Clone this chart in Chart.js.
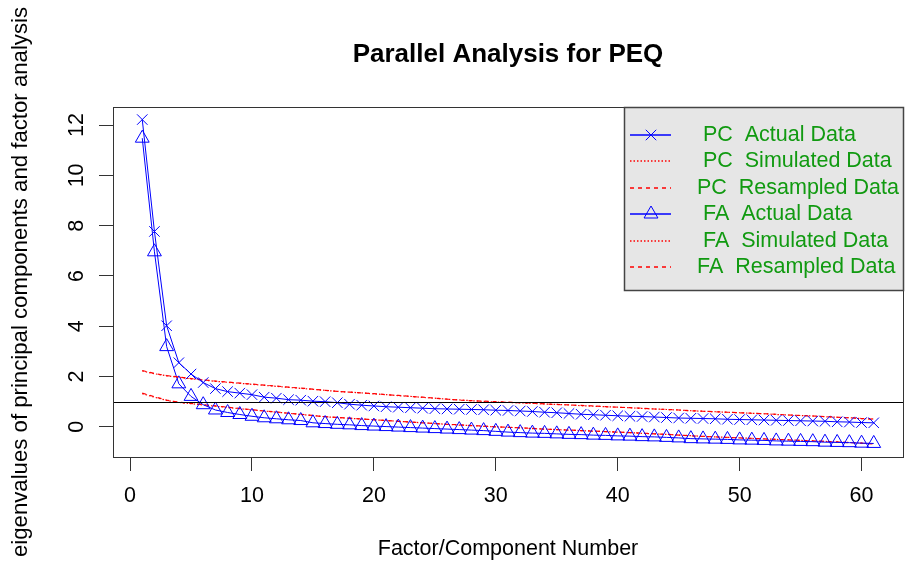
<!DOCTYPE html>
<html>
<head>
<meta charset="utf-8">
<script src="https://cdn.jsdelivr.net/npm/chart.js@4.4.0/dist/chart.umd.min.js"></script>
<style>
  html, body { margin: 0; padding: 0; background: #fff; overflow: hidden; }
  #wrap { position: absolute; left: 0; top: 0; width: 912px; height: 568px; }
</style>
</head>
<body>
<div id="wrap"><canvas id="paChart" width="912" height="568"></canvas></div>
<script>
const factorNumber = [1, 2, 3, 4, 5, 6, 7, 8, 9, 10, 11, 12, 13, 14, 15, 16, 17, 18, 19, 20,
  21, 22, 23, 24, 25, 26, 27, 28, 29, 30, 31, 32, 33, 34, 35, 36, 37, 38, 39, 40,
  41, 42, 43, 44, 45, 46, 47, 48, 49, 50, 51, 52, 53, 54, 55, 56, 57, 58, 59, 60, 61];

const pcActual = [12.22, 7.77, 4.02, 2.55, 2.10, 1.76, 1.52, 1.40, 1.34, 1.28,
  1.18, 1.14, 1.08, 1.06, 1.02, 1.00, 0.96, 0.90, 0.86, 0.83,
  0.80, 0.78, 0.76, 0.74, 0.72, 0.71, 0.70, 0.69, 0.68, 0.66,
  0.65, 0.63, 0.61, 0.58, 0.56, 0.53, 0.50, 0.48, 0.46, 0.44,
  0.42, 0.41, 0.39, 0.37, 0.35, 0.34, 0.33, 0.32, 0.30, 0.29,
  0.28, 0.27, 0.26, 0.25, 0.24, 0.23, 0.22, 0.20, 0.19, 0.17, 0.16];

const pcSimulated = [2.22, 2.11, 2.03, 1.97, 1.91, 1.86, 1.81, 1.77, 1.73, 1.69,
  1.65, 1.61, 1.57, 1.53, 1.49, 1.45, 1.41, 1.38, 1.35, 1.31,
  1.28, 1.24, 1.21, 1.17, 1.14, 1.10, 1.07, 1.04, 1.01, 0.99,
  0.97, 0.95, 0.93, 0.91, 0.89, 0.87, 0.84, 0.82, 0.80, 0.78,
  0.76, 0.73, 0.71, 0.69, 0.67, 0.64, 0.62, 0.60, 0.58, 0.56,
  0.54, 0.52, 0.49, 0.47, 0.45, 0.43, 0.40, 0.38, 0.36, 0.33, 0.31];

const pcResampled = [2.24, 2.12, 2.04, 1.98, 1.92, 1.87, 1.82, 1.78, 1.74, 1.70,
  1.66, 1.62, 1.58, 1.54, 1.50, 1.45, 1.41, 1.38, 1.35, 1.32,
  1.28, 1.25, 1.21, 1.18, 1.14, 1.10, 1.06, 1.04, 1.02, 1.00,
  0.98, 0.96, 0.94, 0.91, 0.89, 0.87, 0.85, 0.83, 0.80, 0.78,
  0.76, 0.74, 0.71, 0.69, 0.67, 0.64, 0.62, 0.60, 0.58, 0.56,
  0.54, 0.52, 0.50, 0.47, 0.45, 0.43, 0.41, 0.38, 0.36, 0.33, 0.30];

const faActual = [11.48, 6.96, 3.19, 1.71, 1.21, 0.88, 0.67, 0.57, 0.49, 0.42,
  0.36, 0.32, 0.28, 0.25, 0.16, 0.13, 0.10, 0.08, 0.05, 0.03,
  0.01, -0.01, -0.03, -0.05, -0.07, -0.09, -0.11, -0.13, -0.15, -0.18,
  -0.21, -0.23, -0.25, -0.26, -0.28, -0.30, -0.31, -0.33, -0.34, -0.36,
  -0.37, -0.39, -0.40, -0.42, -0.44, -0.47, -0.48, -0.49, -0.50, -0.52,
  -0.53, -0.54, -0.56, -0.57, -0.58, -0.59, -0.61, -0.62, -0.63, -0.65, -0.66];

const faSimulated = [1.32, 1.18, 1.05, 0.97, 0.92, 0.87, 0.82, 0.77, 0.72, 0.67,
  0.63, 0.58, 0.54, 0.49, 0.45, 0.40, 0.37, 0.34, 0.31, 0.28,
  0.25, 0.22, 0.19, 0.16, 0.13, 0.10, 0.07, 0.05, 0.02, 0.00,
  -0.02, -0.04, -0.07, -0.09, -0.11, -0.13, -0.15, -0.17, -0.19, -0.21,
  -0.23, -0.26, -0.28, -0.30, -0.33, -0.35, -0.38, -0.40, -0.42, -0.44,
  -0.46, -0.48, -0.50, -0.52, -0.54, -0.56, -0.58, -0.60, -0.62, -0.65, -0.67];

const faResampled = [1.34, 1.20, 1.06, 0.98, 0.93, 0.88, 0.83, 0.78, 0.73, 0.68,
  0.63, 0.59, 0.54, 0.50, 0.45, 0.40, 0.37, 0.34, 0.31, 0.28,
  0.25, 0.22, 0.19, 0.16, 0.13, 0.10, 0.08, 0.05, 0.03, 0.00,
  -0.02, -0.04, -0.06, -0.09, -0.11, -0.13, -0.15, -0.17, -0.19, -0.21,
  -0.23, -0.25, -0.28, -0.30, -0.33, -0.36, -0.38, -0.40, -0.42, -0.44,
  -0.46, -0.48, -0.50, -0.52, -0.54, -0.56, -0.58, -0.60, -0.63, -0.65, -0.68];

const xTicks = [0, 10, 20, 30, 40, 50, 60];
const yTicks = [0, 2, 4, 6, 8, 10, 12];
const refLine = 1;

const legendLabels = ["  PC  Actual Data", "  PC  Simulated Data", " PC  Resampled Data",
  "  FA  Actual Data", "  FA  Simulated Data", " FA  Resampled Data"];

const FONT = "'Liberation Sans', Arial, sans-serif";
const BLUE = "#0000ff";
const RED = "#ff0000";
const DOTTED = [1.5, 2];
const DASHED = [4, 4];

Chart.defaults.font.family = FONT;
Chart.defaults.font.size = 21.5;
Chart.defaults.color = "#000";

function pairs(values) {
  return factorNumber.map((x, i) => ({ x: x, y: values[i] }));
}

function markerLine(label, values, style, radius) {
  return {
    label: label,
    data: pairs(values),
    borderColor: BLUE,
    borderWidth: 1,
    pointStyle: style,
    pointRadius: radius,
    pointBorderColor: BLUE,
    pointBackgroundColor: "rgba(0,0,0,0)",
    pointBorderWidth: 1,
    tension: 0
  };
}

function redLine(label, values, dash) {
  return {
    label: label,
    data: pairs(values),
    borderColor: RED,
    borderWidth: 1.2,
    borderDash: dash,
    pointRadius: 0,
    tension: 0
  };
}

// legend rows: colour, dash, marker
const legendStyles = [
  { color: BLUE, dash: [], marker: "crossRot", radius: 7.4 },
  { color: RED, dash: DOTTED, marker: null },
  { color: RED, dash: DASHED, marker: null },
  { color: BLUE, dash: [], marker: "triangle", radius: 8 },
  { color: RED, dash: DOTTED, marker: null },
  { color: RED, dash: DASHED, marker: null }
];

const datasets = [
  markerLine(legendLabels[0], pcActual, "crossRot", 7.4),
  redLine(legendLabels[1], pcSimulated, DOTTED),
  redLine(legendLabels[2], pcResampled, DASHED),
  markerLine(legendLabels[3], faActual, "triangle", 8),
  redLine(legendLabels[4], faSimulated, DOTTED),
  redLine(legendLabels[5], faResampled, DASHED)
];

// box, reference line, title and legend in R style
const paDecor = {
  id: "paDecor",
  afterDatasetsDraw(chart) {
    const { ctx, chartArea: a, scales } = chart;
    const yy = Math.round(scales.y.getPixelForValue(refLine)) + 0.5;
    ctx.save();
    ctx.setLineDash([]);
    ctx.strokeStyle = "#000";
    ctx.lineWidth = 1;
    ctx.beginPath();
    ctx.moveTo(a.left, yy);
    ctx.lineTo(a.right, yy);
    ctx.stroke();
    ctx.strokeStyle = "#333";
    ctx.strokeRect(Math.round(a.left) + 0.5, Math.round(a.top) + 0.5,
      Math.round(a.right - a.left), Math.round(a.bottom - a.top));
    ctx.restore();
  },
  afterDraw(chart) {
    const { ctx, chartArea: a } = chart;
    ctx.save();
    ctx.setLineDash([]);
    ctx.fillStyle = "#000";
    ctx.font = "bold 26px " + FONT;
    ctx.textAlign = "center";
    ctx.textBaseline = "middle";
    ctx.fillText("Parallel Analysis for PEQ", (a.left + a.right) / 2, 55);

    // legend
    const left = 624, top = Math.round(a.top), bottom = 290;
    ctx.fillStyle = "#e6e6e6";
    ctx.fillRect(left, top, a.right - left, bottom - top);
    ctx.strokeStyle = "#444";
    ctx.lineWidth = 1.5;
    ctx.strokeRect(left + 0.5, top + 0.5, a.right - left, bottom - top);

    ctx.font = "21.5px " + FONT;
    ctx.textAlign = "left";
    for (let i = 0; i < legendLabels.length; i++) {
      const st = legendStyles[i];
      const ry = Math.round(135 + i * 26.4);
      ctx.save();
      ctx.strokeStyle = st.color;
      ctx.lineWidth = 1.5;
      ctx.setLineDash(st.dash);
      ctx.beginPath();
      ctx.moveTo(630, ry);
      ctx.lineTo(671, ry);
      ctx.stroke();
      ctx.restore();
      if (st.marker) {
        ctx.save();
        ctx.strokeStyle = st.color;
        ctx.fillStyle = "rgba(0,0,0,0)";
        ctx.lineWidth = 1;
        Chart.helpers.drawPoint(ctx, {
          pointStyle: st.marker, radius: st.radius, borderWidth: 1, rotation: 0
        }, 651, ry);
        ctx.restore();
      }
      ctx.fillStyle = "#119a11";
      ctx.fillText(legendLabels[i], 691, ry);
    }
    ctx.restore();
  }
};

new Chart(document.getElementById("paChart"), {
  type: "line",
  data: { datasets: datasets },
  options: {
    responsive: false,
    animation: false,
    devicePixelRatio: 1,
    layout: { padding: { top: 107, right: 2, left: 0, bottom: 0 } },
    plugins: {
      legend: { display: false },
      tooltip: { enabled: false },
      title: { display: false }
    },
    scales: {
      x: {
        type: "linear",
        min: -1.4,
        max: 63.4,
        afterBuildTicks: (s) => { s.ticks = xTicks.map(v => ({ value: v })); },
        afterFit: (s) => { s.height = 111; },
        border: { display: false },
        grid: { drawOnChartArea: false, tickLength: 14, color: "#333", lineWidth: 1 },
        ticks: { color: "#000", padding: 12, autoSkip: false, maxRotation: 0 },
        title: {
          display: true, text: "Factor/Component Number", color: "#000",
          padding: { top: 0, bottom: 6 }
        }
      },
      y: {
        type: "linear",
        min: -1.2,
        max: 12.72,
        afterBuildTicks: (s) => { s.ticks = yTicks.map(v => ({ value: v })); },
        afterFit: (s) => { s.width = 113; },
        border: { display: false },
        grid: { drawOnChartArea: false, tickLength: 14, color: "#333", lineWidth: 1 },
        ticks: {
          color: "#000", padding: 10, autoSkip: false,
          minRotation: 90, maxRotation: 90, crossAlign: "center"
        },
        title: {
          display: true, text: "eigenvalues of principal components and factor analysis",
          color: "#000", font: { size: 22.2 }, padding: { top: 8, bottom: 0 }
        }
      }
    }
  },
  plugins: [paDecor]
});
</script>
</body>
</html>
